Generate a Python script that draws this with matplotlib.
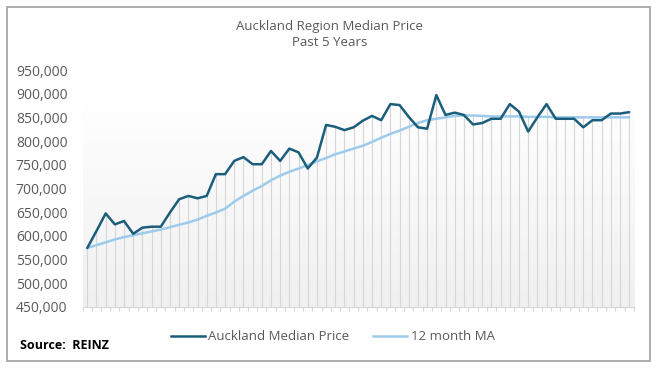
import numpy as np
import matplotlib
matplotlib.use("Agg")
import matplotlib.pyplot as plt
from matplotlib.lines import Line2D
from matplotlib.patches import Rectangle

plt.rcParams['font.family'] = ['Open Sans', 'DejaVu Sans']

# monthly values, past 5 years (60 months)
median_price = [574, 610, 647, 624, 631, 604, 617, 619, 619, 649,
                677, 684, 679, 684, 730, 730, 758, 766, 751, 751,
                779, 758, 784, 776, 742, 765, 834, 830, 823, 829,
                843, 853, 844, 878, 876, 851, 829, 826, 897, 855,
                860, 855, 835, 838, 847, 847, 878, 862, 820, 850,
                878, 847, 847, 847, 829, 844, 844, 858, 858, 861]
ma_12 = [574, 580, 586, 592, 597, 601, 605, 609, 613, 618,
         623, 628, 634, 642, 649, 657, 672, 684, 695, 705,
         717, 727, 735, 742, 749, 757, 764, 772, 778, 784,
         790, 798, 807, 815, 822, 830, 838, 844, 847, 850,
         853, 854, 854, 853, 852, 852, 852, 852, 851, 851,
         851, 850, 850, 850, 850, 850, 850, 850, 850, 850]
y_ticks = [450000, 500000, 550000, 600000, 650000, 700000, 750000, 800000, 850000, 900000, 950000]

price = np.array(median_price) * 1000
ma = np.array(ma_12) * 1000
months = np.arange(len(price))

fig = plt.figure(figsize=(6.6, 3.72), dpi=100)
ax = fig.add_axes([0.1253, 0.1755, 0.835, 0.6363])

# light gradient background of the plot area
grad = np.linspace(0, 1, 256).reshape(-1, 1)
ax.imshow(grad, extent=(0, 1, 0, 0.88), transform=ax.transAxes, aspect='auto',
          cmap=matplotlib.colors.LinearSegmentedColormap.from_list('g', ['#f0f0f0', '#ffffff']),
          origin='lower', zorder=0)

# drop lines
ax.vlines(months, 450000, np.maximum(price, ma), color='#d6d6d6', lw=0.8, zorder=1)

ax.plot(months, ma, color='#9dcbec', lw=1.8, zorder=2, solid_capstyle='round')
ax.plot(months, price, color='#1b5e7b', lw=1.8, zorder=3, solid_capstyle='round')

ax.set_xlim(-0.5, len(price) - 0.5)
ax.set_ylim(450000, 950000)
ax.set_yticks(y_ticks)
ax.set_yticklabels([f"{v:,}" for v in y_ticks], fontsize=10, color='#595959')
ax.tick_params(axis='y', length=0, pad=11)
ax.set_xticks(np.arange(-0.5, len(price), 1))
ax.set_xticklabels([])
ax.tick_params(axis='x', length=3, color='#d6d6d6', width=0.8)
for s in ['top', 'right', 'left']:
    ax.spines[s].set_visible(False)
ax.spines['bottom'].set_color('#d6d6d6')
ax.spines['bottom'].set_linewidth(0.8)
ax.patch.set_alpha(0)

fig.text(0.5, 0.93, 'Auckland Region Median Price', ha='center', va='center', fontsize=9.5, color='#595959')
fig.text(0.5, 0.887, 'Past 5 Years', ha='center', va='center', fontsize=9.5, color='#595959')

handles = [Line2D([], [], color='#1b5e7b', lw=1.8), Line2D([], [], color='#9dcbec', lw=1.8)]
fig.legend(handles, ['Auckland Median Price', '12 month MA'], loc='center', bbox_to_anchor=(0.504, 0.095),
           ncol=2, frameon=False, fontsize=9.5, handlelength=2.6, handletextpad=0.25, columnspacing=1.8,
           labelcolor='#595959')

fig.text(0.03, 0.072, 'Source:  REINZ', fontsize=9, fontweight='bold', color='black', va='center')

fig.patches.append(Rectangle((7 / 660, 11 / 372), 643 / 660, 354 / 372, transform=fig.transFigure,
                             fill=False, edgecolor='#a0a0a0', lw=1.2))

fig.savefig('out.png', dpi=100)
